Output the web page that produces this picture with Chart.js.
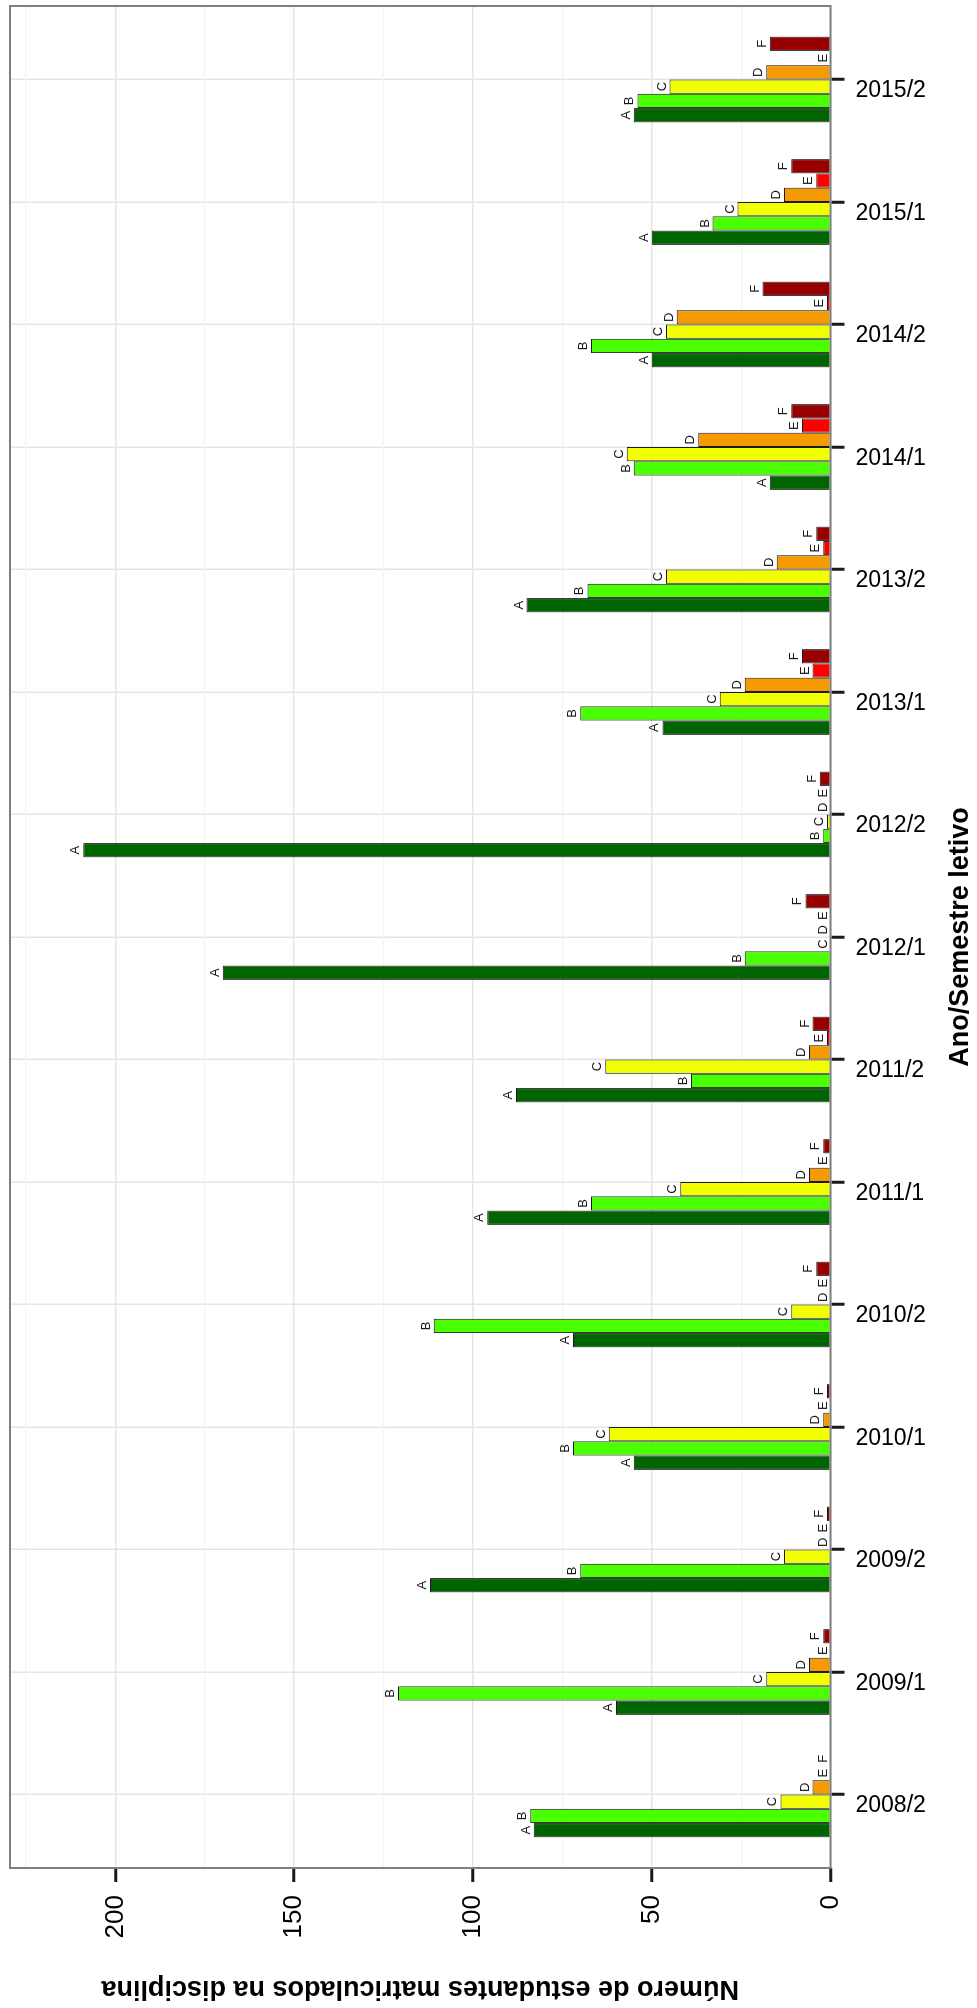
<!DOCTYPE html>
<html>
<head>
<meta charset="utf-8">
<script src="https://cdn.jsdelivr.net/npm/chart.js@4.4.1/dist/chart.umd.min.js"></script>
<style>
  html, body { margin: 0; padding: 0; overflow: hidden; background: #fff; }
  /* the plot is drawn landscape and turned a quarter turn, like the original */
  #wrap { position: absolute; left: 0; top: 0; width: 2008px; height: 977px;
          transform-origin: 0 0; transform: translateY(2008px) rotate(-90deg); }
</style>
</head>
<body>
<div id="wrap"><canvas id="gradeChart" width="2008" height="977"></canvas></div>
<script>
const semesters = ['2008/2', '2009/1', '2009/2', '2010/1', '2010/2', '2011/1', '2011/2', '2012/1',
                   '2012/2', '2013/1', '2013/2', '2014/1', '2014/2', '2015/1', '2015/2'];
const grades = ['A', 'B', 'C', 'D', 'E', 'F'];
const gradeA = [83, 60, 112, 55, 72, 96, 88, 170, 209, 47, 85, 17, 50, 50, 55];
const gradeB = [84, 121, 70, 72, 111, 67, 39, 24, 2, 70, 68, 55, 67, 33, 54];
const gradeC = [14, 18, 13, 62, 11, 42, 63, 0, 1, 31, 46, 57, 46, 26, 45];
const gradeD = [5, 6, 0, 2, 0, 6, 6, 0, 0, 24, 15, 37, 43, 13, 18];
const gradeE = [0, 0, 0, 0, 0, 0, 1, 0, 0, 5, 2, 8, 1, 4, 0];
const gradeF = [0, 2, 1, 1, 4, 2, 5, 7, 3, 8, 4, 11, 19, 11, 17];
const valueTicks = [0, 50, 100, 150, 200];
const gradeColors = ['#006400', '#49ff00', '#f2ff00', '#f59a00', '#ff0000', '#960000'];

const series = [gradeA, gradeB, gradeC, gradeD, gradeE, gradeF];
const FONT = "'Liberation Sans', Arial, Helvetica, sans-serif";
Chart.defaults.font.family = FONT;
Chart.defaults.color = '#000';

// letters over the bars, panel border and the semester labels
const panelDecor = {
  id: 'panelDecor',
  afterDatasetsDraw(chart) {
    const {ctx, chartArea: a, scales} = chart;
    ctx.save();
    ctx.font = '13px ' + FONT;
    ctx.fillStyle = '#1a1a1a';
    ctx.textAlign = 'center';
    ctx.textBaseline = 'alphabetic';
    chart.data.datasets.forEach((ds, i) => {
      chart.getDatasetMeta(i).data.forEach(bar => {
        ctx.fillText(ds.label, bar.x, bar.y - 4);
      });
    });

    ctx.strokeStyle = '#7f7f7f';
    ctx.lineWidth = 2;
    ctx.strokeRect(a.left, a.top, a.right - a.left, a.bottom - a.top);

    ctx.font = '23px ' + FONT;
    ctx.fillStyle = '#000';
    ctx.textAlign = 'left';
    semesters.forEach((s, i) => {
      ctx.save();
      ctx.translate(scales.x.getPixelForValue(i), a.bottom + 25);
      ctx.rotate(Math.PI / 2);
      ctx.fillText(s, 0, 18);
      ctx.restore();
    });
    ctx.restore();
  }
};

const isMajor = v => valueTicks.includes(v);

new Chart(document.getElementById('gradeChart'), {
  type: 'bar',
  data: {
    datasets: grades.map((g, k) => ({
      label: g,
      data: semesters.map((s, i) => ({x: i, y: series[k][i]})),
      backgroundColor: gradeColors[k],
      borderColor: '#1a1a1a',
      borderWidth: 1,
      borderSkipped: 'start',
      categoryPercentage: 0.7,
      barPercentage: 1.0
    }))
  },
  options: {
    responsive: false,
    animation: false,
    devicePixelRatio: 1,
    layout: { padding: { top: 10, right: 6, bottom: 0, left: 0 } },
    plugins: {
      legend: { display: false },
      tooltip: { enabled: false }
    },
    scales: {
      x: {
        type: 'linear',
        min: -0.6,
        max: 14.6,
        offset: false,
        ticks: { display: false, stepSize: 1, includeBounds: false },
        grid: { offset: false, color: '#e5e5e5', lineWidth: 1.5,
                tickLength: 14, tickWidth: 3, tickColor: '#1a1a1a' },
        border: { display: false },
        title: { display: true, text: 'Ano/Semestre letivo', color: '#000',
                 font: { size: 27, weight: 'bold' }, padding: { top: 0, bottom: 0 } },
        afterFit(scale) { scale.height = 146.5; scale.paddingLeft = 0; scale.paddingRight = 0; }
      },
      y: {
        min: 0,
        max: 229.5,
        ticks: { stepSize: 25, includeBounds: false, padding: 13, color: '#000',
                 font: { size: 26 }, callback: v => isMajor(v) ? String(v) : '' },
        grid: {
          color: c => isMajor(c.tick.value) ? '#e5e5e5' : '#f3f3f3',
          lineWidth: c => isMajor(c.tick.value) ? 1.5 : 1.2,
          tickLength: 14, tickWidth: 3,
          tickColor: c => isMajor(c.tick.value) ? '#1a1a1a' : 'rgba(0,0,0,0)'
        },
        border: { display: false },
        title: { display: true, text: 'Número de estudantes matriculados na disciplina', color: '#000',
                 font: { size: 27, weight: 'bold' }, padding: { top: 3, bottom: 0 } },
        afterFit(scale) { scale.width = 140; scale.paddingTop = 0; scale.paddingBottom = 0; }
      }
    }
  },
  plugins: [panelDecor]
});
</script>
</body>
</html>
